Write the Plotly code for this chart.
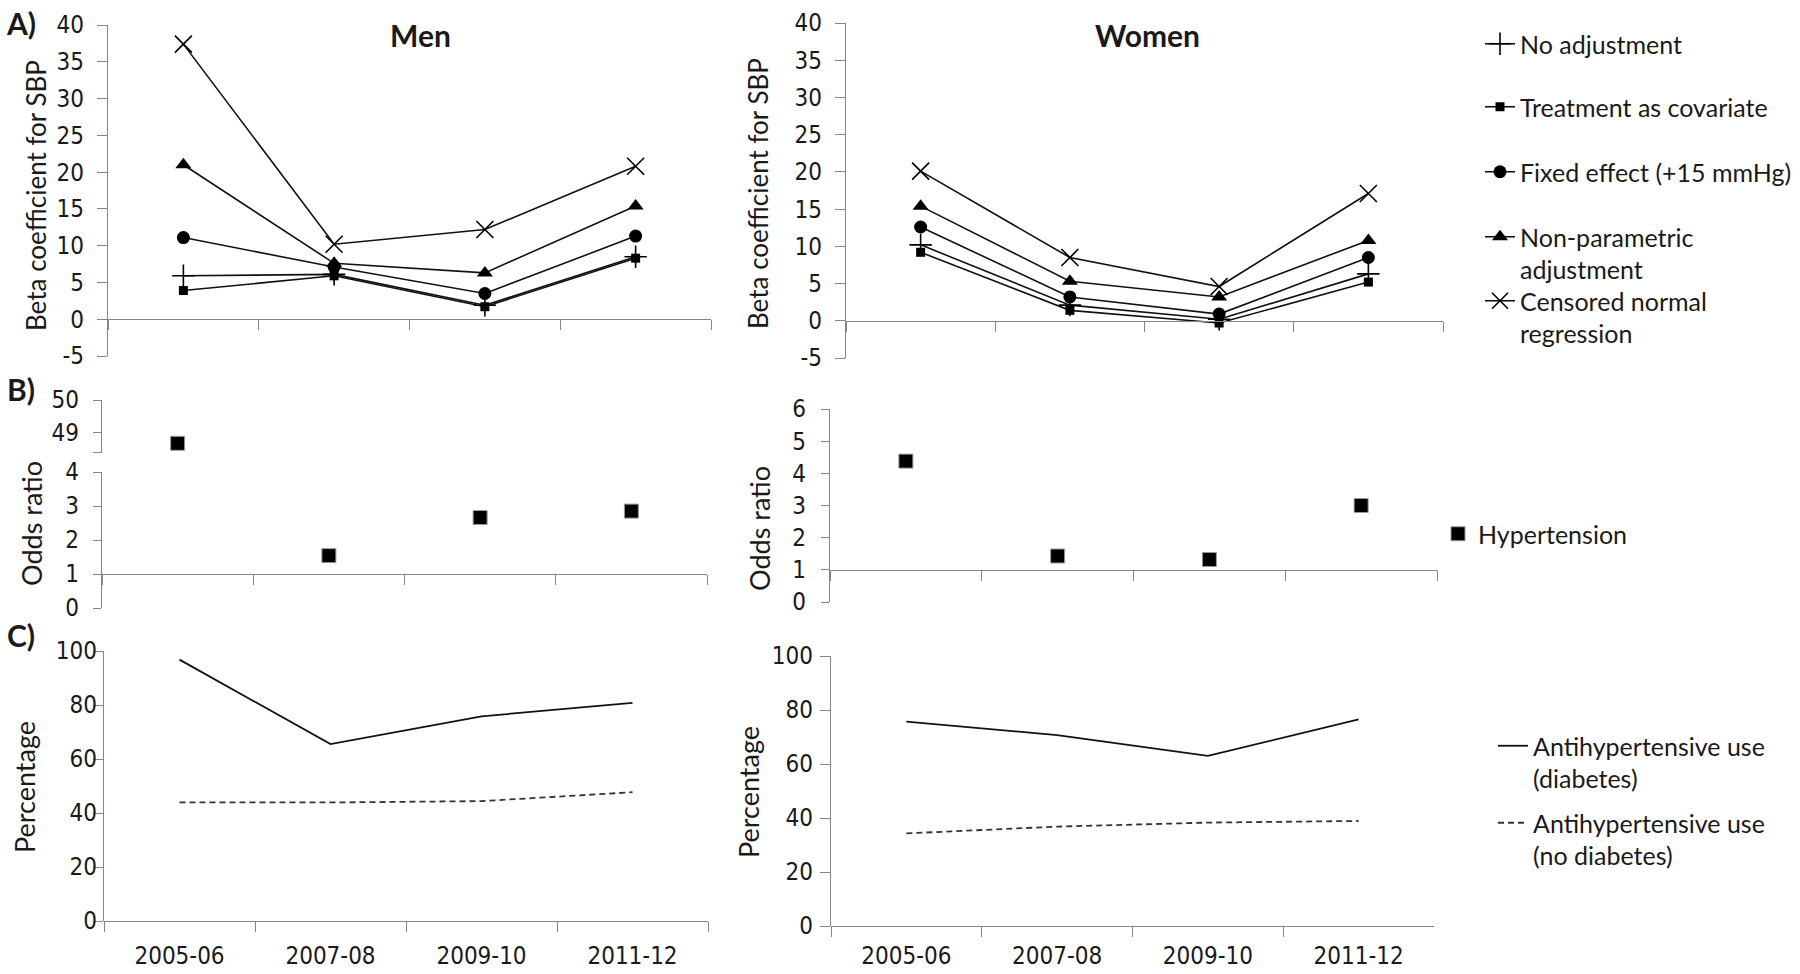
import plotly.graph_objects as go

W, H = 1800, 974

periods = ["2005-06", "2007-08", "2009-10", "2011-12"]

# A) beta coefficient for SBP
men_no_adj = [5.9, 6.1, 1.9, 8.5]
men_treat = [3.9, 5.9, 1.7, 8.3]
men_fixed = [11.1, 7.1, 3.5, 11.3]
men_nonpar = [21.0, 7.6, 6.3, 15.4]
men_censored = [37.4, 10.2, 12.2, 20.8]

women_no_adj = [10.2, 2.1, 0.2, 6.3]
women_treat = [9.2, 1.4, -0.3, 5.2]
women_fixed = [12.6, 3.2, 0.9, 8.5]
women_nonpar = [15.4, 5.3, 3.2, 10.8]
women_censored = [20.1, 8.5, 4.6, 17.1]

# B) odds ratio for hypertension
men_or = [48.66, 1.54, 2.66, 2.85]
women_or = [4.38, 1.43, 1.32, 3.0]

# C) antihypertensive use (%)
men_diab = [96.8, 65.5, 75.8, 80.8]
men_nodiab = [43.9, 43.9, 44.4, 47.7]
women_diab = [75.7, 70.7, 63.0, 76.5]
women_nodiab = [34.3, 36.8, 38.3, 38.9]

beta_ticks = [-5, 0, 5, 10, 15, 20, 25, 30, 35, 40]
beta_labels = ["-5", "0", "5", "10", "15", "20", "25", "30", "35", "40"]
upper_ticks = [48.38, 49, 50]
upper_labels = ["", "49", "50"]

series_a = [
    ("No adjustment", men_no_adj, women_no_adj, "cross-thin", 16),
    ("Treatment as covariate", men_treat, women_treat, "square", 9),
    ("Fixed effect (+15 mmHg)", men_fixed, women_fixed, "circle", 13),
    ("Non-parametric<br>adjustment", men_nonpar, women_nonpar, "triangle-up", 14),
    ("Censored normal<br>regression", men_censored, women_censored, "x-thin", 17),
]

AX = "#868686"
TXT = "#1a1a1a"
TICKFONT = dict(family="Liberation Sans Narrow, DejaVu Sans Condensed, Arial Narrow, sans-serif",
                size=24, color=TXT)
LABFONT = dict(family="Lato, Carlito, Calibri, sans-serif", size=26, color=TXT)


def xdom(a, b):
    return [a / W, b / W]


def ydom(top, bottom):
    return [1 - bottom / H, 1 - top / H]


def cross(dom, rng, v):
    return dom[0] + (v - rng[0]) / (rng[1] - rng[0]) * (dom[1] - dom[0])


fig = go.Figure()

# ---- panel geometry (pixels) ----
xa_men, xa_wom = xdom(108, 711), xdom(846, 1443)
xb_men, xb_wom = xdom(102, 707), xdom(830, 1437)
xc_men, xc_wom = xdom(104, 708), xdom(831, 1434)

ya_men, ya_wom = ydom(25, 356), ydom(23, 358)
yb_men_up, yb_men_lo = ydom(400, 453), ydom(472, 608)
yb_wom = ydom(409, 602)
yc_men, yc_wom = ydom(651, 921), ydom(656, 926)

ra = [-5, 40]
rb_up, rb_lo, rb_w = [48.36, 50], [0, 4], [0, 6]
rc = [0, 100]

# ---- A traces ----
for i, (name, m, w, sym, size) in enumerate(series_a):
    lg = "legend" if i == 0 else "legend%d" % (i + 1)
    mk = dict(symbol=sym, size=size, color="black",
              line=dict(color="black", width=1.6 if "thin" in sym else 0))
    fig.add_trace(go.Scatter(x=periods, y=m, name=name, mode="lines+markers",
                             line=dict(color="#111", width=1.6), marker=mk,
                             xaxis="x", yaxis="y", legend=lg))
    fig.add_trace(go.Scatter(x=periods, y=w, name=name, mode="lines+markers",
                             line=dict(color="#111", width=1.6), marker=mk,
                             xaxis="x2", yaxis="y2", showlegend=False))

# ---- B traces (men on broken axis) ----
sq = dict(symbol="square", size=14, color="black", line=dict(color="#9a9a9a", width=1))
fig.add_trace(go.Scatter(x=periods, y=men_or, name="Hypertension", mode="markers", marker=sq,
                         xaxis="x3", yaxis="y3", legend="legend6"))
fig.add_trace(go.Scatter(x=periods, y=men_or, name="Hypertension", mode="markers", marker=sq,
                         xaxis="x3", yaxis="y4", showlegend=False))
fig.add_trace(go.Scatter(x=periods, y=women_or, name="Hypertension", mode="markers", marker=sq,
                         xaxis="x4", yaxis="y5", showlegend=False))

# ---- C traces ----
solid = dict(color="#111", width=1.8)
dashed = dict(color="#333", width=1.8, dash="6px,4px")
fig.add_trace(go.Scatter(x=periods, y=men_diab, name="Antihypertensive use<br>(diabetes)",
                         mode="lines", line=solid, xaxis="x5", yaxis="y6", legend="legend7"))
fig.add_trace(go.Scatter(x=periods, y=men_nodiab, name="Antihypertensive use<br>(no diabetes)",
                         mode="lines", line=dashed, xaxis="x5", yaxis="y6", legend="legend8"))
fig.add_trace(go.Scatter(x=periods, y=women_diab, mode="lines", line=solid,
                         xaxis="x6", yaxis="y7", showlegend=False))
fig.add_trace(go.Scatter(x=periods, y=women_nodiab, mode="lines", line=dashed,
                         xaxis="x6", yaxis="y7", showlegend=False))

# ---- axes ----
base = dict(showline=True, linecolor=AX, linewidth=1.3, ticks="outside", tickcolor=AX,
            tickwidth=1.3, showgrid=False, zeroline=False, tickfont=TICKFONT, automargin=False)


def xaxis(dom, pos, labels, standoff=14):
    return dict(base, domain=dom, anchor="free", position=pos, type="category",
                categoryorder="array", categoryarray=periods, range=[-0.5, 3.5],
                tickson="boundaries", ticklen=10, showticklabels=labels,
                ticklabelstandoff=standoff)


def yaxis(dom, rng, anchor, standoff, ticklen=10, tickvals=None, ticktext=None, dtick=None):
    d = dict(base, domain=dom, range=rng, anchor=anchor, ticklen=ticklen,
             ticklabelstandoff=standoff)
    if tickvals is not None:
        d["tickvals"] = tickvals
        if ticktext is not None:
            d["ticktext"] = ticktext
    else:
        d["dtick"] = dtick
    return d


fig.update_layout(
    xaxis=xaxis(xa_men, cross(ya_men, ra, 0), False),
    yaxis=yaxis(ya_men, ra, "x", 8, tickvals=beta_ticks, ticktext=beta_labels),
    xaxis2=xaxis(xa_wom, cross(ya_wom, ra, 0), False),
    yaxis2=yaxis(ya_wom, ra, "x2", 8, tickvals=beta_ticks, ticktext=beta_labels),
    xaxis3=xaxis(xb_men, cross(yb_men_lo, rb_lo, 1), False),
    yaxis3=yaxis(yb_men_up, rb_up, "x3", 9, 8, tickvals=upper_ticks, ticktext=upper_labels),
    yaxis4=yaxis(yb_men_lo, rb_lo, "x3", 9, 8, dtick=1),
    xaxis4=xaxis(xb_wom, cross(yb_wom, rb_w, 1), False),
    yaxis5=yaxis(yb_wom, rb_w, "x4", 10, 8, dtick=1),
    xaxis5=xaxis(xc_men, cross(yc_men, rc, 0), True, 13),
    yaxis6=yaxis(yc_men, rc, "x5", -9, dtick=20),
    xaxis6=xaxis(xc_wom, cross(yc_wom, rc, 0), True, 8),
    yaxis7=yaxis(yc_wom, rc, "x6", 2, dtick=20),
)

# ---- legends ----
LEGFONT = dict(family="Lato, Carlito, Calibri, sans-serif", size=25, color=TXT)
leg_pos = {
    "legend": (1480, 21), "legend2": (1480, 84), "legend3": (1480, 149),
    "legend4": (1480, 214), "legend5": (1480, 278), "legend6": (1438, 511),
    "legend7": (1493, 723), "legend8": (1493, 800),
}
for key, (lx, ly) in leg_pos.items():
    fig.update_layout({key: dict(x=lx / W, y=1 - ly / H, xanchor="left", yanchor="top",
                                 bgcolor="rgba(0,0,0,0)", font=LEGFONT, valign="top")})

# ---- text ----
annots = [
    ("<b>Men</b>", 420, 35, 0, 30), ("<b>Women</b>", 1147, 35, 0, 30),
    ("<b>A)</b>", 21, 23, 0, 30), ("<b>B)</b>", 21, 389, 0, 30), ("<b>C)</b>", 21, 635, 0, 30),
    ("Beta coefficient for SBP", 36, 196, -90, 26), ("Beta coefficient for SBP", 758, 194, -90, 26),
    ("Odds ratio", 31, 524, -90, 27), ("Odds ratio", 759, 529, -90, 27),
    ("Percentage", 24, 787, -90, 27), ("Percentage", 748, 792, -90, 27),
]
for text, ax, ay, ang, size in annots:
    fig.add_annotation(text=text, x=ax / W, y=1 - ay / H, xref="paper", yref="paper",
                       showarrow=False, textangle=ang, xanchor="center", yanchor="middle",
                       font=dict(LABFONT, size=size))

fig.update_layout(width=W, height=H, margin=dict(l=0, r=0, t=0, b=0, autoexpand=False),
                  paper_bgcolor="white", plot_bgcolor="white")

fig.write_html("out.html", config={"displayModeBar": False},
               post_script="document.body.style.margin='0';document.body.style.overflow='hidden';")
